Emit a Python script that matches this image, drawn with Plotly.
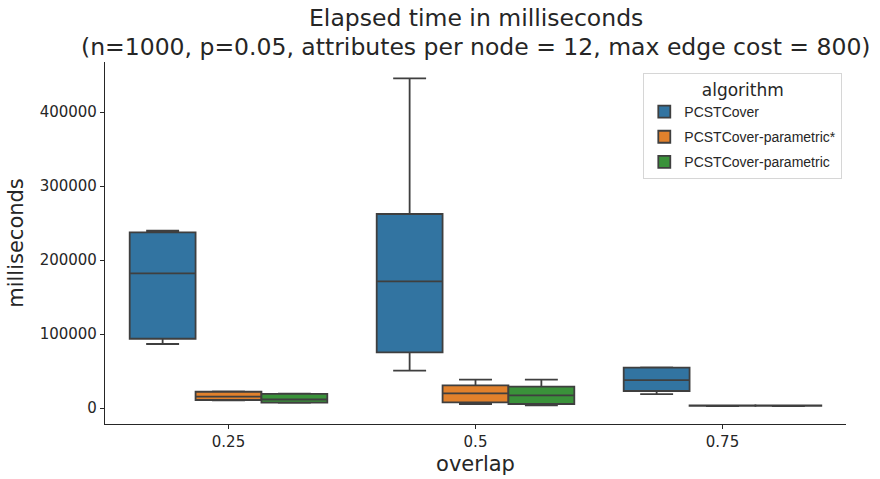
import plotly.graph_objects as go

overlap = ["0.25", "0.5", "0.75"]
algorithms = ["PCSTCover", "PCSTCover-parametric*", "PCSTCover-parametric"]
fill_colors = ["#3274a1", "#e1812c", "#3a923a"]

# box statistics per algorithm, one entry per overlap value
lower_whisker = {
    "PCSTCover": [86500, 50400, 18900],
    "PCSTCover-parametric*": [10500, 5400, 2600],
    "PCSTCover-parametric": [7000, 3600, 2600],
}
q1 = {
    "PCSTCover": [93600, 75200, 23000],
    "PCSTCover-parametric*": [10800, 7700, 2800],
    "PCSTCover-parametric": [7400, 5400, 2800],
}
median = {
    "PCSTCover": [182000, 171200, 37800],
    "PCSTCover-parametric*": [15300, 19800, 3100],
    "PCSTCover-parametric": [11500, 17100, 3100],
}
q3 = {
    "PCSTCover": [237400, 262200, 54500],
    "PCSTCover-parametric*": [22000, 30600, 3400],
    "PCSTCover-parametric": [19000, 28800, 3400],
}
upper_whisker = {
    "PCSTCover": [239600, 445500, 55000],
    "PCSTCover-parametric*": [22500, 38300, 3600],
    "PCSTCover-parametric": [19500, 38300, 3600],
}

title_lines = [
    "Elapsed time in milliseconds",
    "(n=1000, p=0.05, attributes per node = 12, max edge cost = 800)",
]

edge = "rgb(63,63,63)"
fig = go.Figure()
for name, color in zip(algorithms, fill_colors):
    fig.add_trace(go.Box(
        name=name,
        legendgroup=name,
        x=overlap,
        q1=q1[name],
        median=median[name],
        q3=q3[name],
        lowerfence=lower_whisker[name],
        upperfence=upper_whisker[name],
        fillcolor=color,
        line=dict(color=edge, width=1.8),
        whiskerwidth=0.5,
        boxpoints=False,
        hoverinfo="skip",
    ))

fig.update_layout(
    width=880, height=479,
    margin=dict(l=105, r=34, t=62, b=55),
    paper_bgcolor="white",
    plot_bgcolor="white",
    boxmode="group",
    boxgap=0.2,
    boxgroupgap=0,
    font=dict(family="DejaVu Sans", color="#262626"),
    legend=dict(
        title=dict(text="algorithm", side="top center",
                   font=dict(size=17, family="DejaVu Sans", color="#262626")),
        font=dict(size=14, family="Liberation Sans", color="#262626"),
        x=0.995, xanchor="right", y=0.97, yanchor="top",
        bordercolor="#d6d6d6", borderwidth=1,
        bgcolor="rgba(255,255,255,0.8)",
        tracegroupgap=4,
    ),
    showlegend=True,
)

# two-line chart title above the plot area, one annotation per line
for line, ypos in zip(title_lines, [1.1215, 1.0414]):
    fig.add_annotation(
        text=line,
        xref="paper", x=0.5, xanchor="center",
        yref="paper", y=ypos, yanchor="middle",
        showarrow=False,
        font=dict(size=23.5, family="DejaVu Sans", color="#262626"),
    )

fig.update_xaxes(
    type="category",
    range=[-0.5, 2.5],
    automargin=False,
    showline=True, linecolor="#262626", linewidth=1.2,
    ticks="outside", ticklen=4, tickcolor="#262626",
    tickfont=dict(size=15, family="DejaVu Sans"),
    showgrid=False, zeroline=False,
    title=dict(text="overlap", font=dict(size=21, family="DejaVu Sans"), standoff=6),
)
fig.update_yaxes(
    range=[-21600, 467600],
    tickvals=[0, 100000, 200000, 300000, 400000],
    tickformat="d",
    automargin=False,
    showline=True, linecolor="#262626", linewidth=1.2,
    ticks="outside", ticklen=4, tickcolor="#262626",
    tickfont=dict(size=15, family="DejaVu Sans"),
    showgrid=False, zeroline=False,
    title=dict(text="milliseconds", font=dict(size=21, family="DejaVu Sans"), standoff=10),
)

fig.write_html("out.html")
